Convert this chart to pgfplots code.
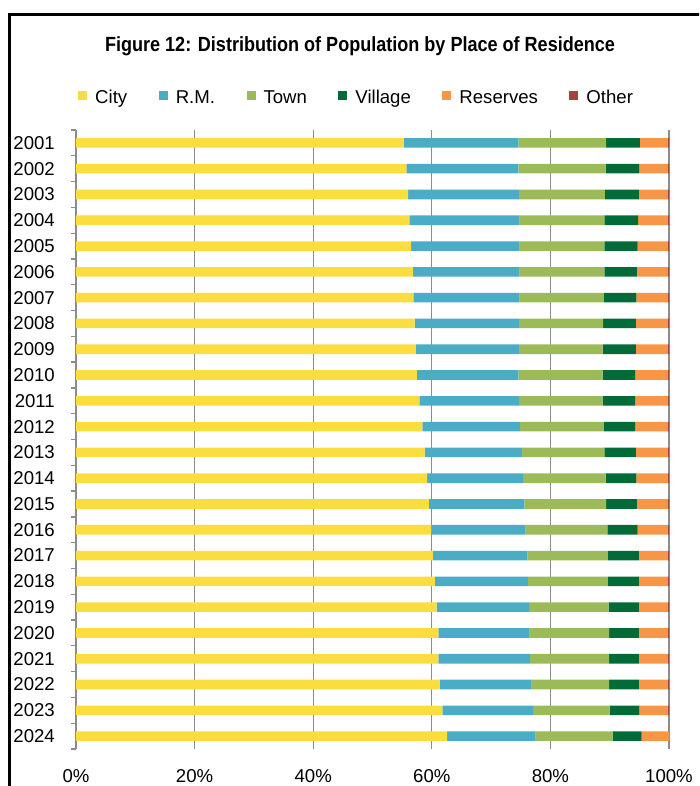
\documentclass[border=0pt]{standalone}
\usepackage{fontspec}
\setmainfont{Liberation Sans}
\newfontfamily\titlefont{Liberation Sans}[FakeStretch=0.88]
\usepackage{pgfplots}
\usepackage{pgfplotstable}
\pgfplotsset{compat=1.18}
\definecolor{cCity}{HTML}{FBDD40}
\definecolor{cRM}{HTML}{4BACC6}
\definecolor{cTown}{HTML}{9BBB59}
\definecolor{cVillage}{HTML}{036B38}
\definecolor{cRes}{HTML}{F79646}
\definecolor{cOther}{HTML}{A5443F}
\definecolor{gridgray}{HTML}{8C8C8C}
\pgfplotstableread{
idx city rm town village reserves other
1  55.3 19.3 14.8 5.7 4.7 0.2
2  55.7 18.9 14.7 5.7 4.8 0.2
3  56.0 18.7 14.5 5.7 4.9 0.2
4  56.2 18.6 14.3 5.7 5.0 0.2
5  56.5 18.3 14.3 5.6 5.1 0.2
6  56.8 18.0 14.3 5.5 5.2 0.2
7  56.9 17.9 14.2 5.5 5.3 0.2
8  57.1 17.6 14.2 5.5 5.4 0.2
9  57.3 17.4 14.1 5.6 5.4 0.2
10 57.5 17.1 14.2 5.5 5.5 0.2
11 57.9 16.8 14.1 5.5 5.5 0.2
12 58.4 16.5 14.1 5.3 5.5 0.2
13 58.8 16.4 13.9 5.3 5.4 0.2
14 59.2 16.2 13.9 5.2 5.3 0.2
15 59.5 16.1 13.8 5.2 5.2 0.2
16 59.9 15.9 13.8 5.1 5.1 0.2
17 60.2 15.9 13.6 5.2 4.9 0.2
18 60.5 15.7 13.5 5.2 4.9 0.2
19 60.8 15.6 13.4 5.1 4.9 0.2
20 61.1 15.4 13.4 5.0 4.9 0.2
21 61.1 15.5 13.3 5.0 4.9 0.2
22 61.3 15.4 13.2 5.0 4.9 0.2
23 61.8 15.3 12.9 5.0 4.8 0.2
24 62.6 14.9 13.0 4.9 4.6 0.0
}\datatable
\begin{document}
\begin{tikzpicture}
\path[use as bounding box] (0pt,0pt) rectangle (699pt,-786pt);
\begin{scope}
\clip (0pt,0pt) rectangle (699pt,-786pt);
\draw[line width=2.5pt, black] (9.5pt,-800pt) -- (9.5pt,-14.5pt) -- (720pt,-14.5pt);
\end{scope}
\node[font=\titlefont\bfseries\fontsize{20.5}{23}\selectfont, anchor=base, inner sep=0pt] at (360pt,-51.7pt) {Figure 12: Distribution of Population by Place of Residence};
\begin{axis}[
  at={(76pt,-749pt)}, anchor=south west,
  scale only axis, width=593pt, height=619pt,
  xbar stacked, bar width=9.6pt,
  xmin=0, xmax=100, ymin=0.5, ymax=24.5,
  y dir=reverse,
  enlargelimits=false,
  axis y line*=left, axis x line*=bottom,
  x axis line style={draw=none},
  y axis line style={draw=gridgray, line width=1.3pt},
  xtick={0,20,40,60,80,100},
  xticklabels={0\%,20\%,40\%,60\%,80\%,100\%},
  ytick={1,...,24},
  yticklabels={2001,2002,2003,2004,2005,2006,2007,2008,2009,2010,2011,2012,2013,2014,2015,2016,2017,2018,2019,2020,2021,2022,2023,2024},
  minor ytick={0.5,1.5,...,24.5},
  tick align=outside,
  major tick length=0pt, minor tick length=5pt,
  tick style={draw=gridgray, line width=1.3pt},
  xmajorgrids,
  major grid style={draw=gridgray, line width=1.3pt},
  tick label style={font=\fontsize{18.6}{20}\selectfont},
  yticklabel style={anchor=east, inner sep=0pt, xshift=-21pt},
  xticklabel style={anchor=north, inner sep=0pt, yshift=-20pt},
  legend columns=6,
  legend cell align=left,
  legend style={at={(0.0034,1.0501)}, anchor=west, draw=none, fill=none, inner sep=0pt,
    nodes={inner sep=0pt, text height=13.4pt, text depth=4pt, font=\fontsize{18.6}{20}\selectfont},
    /tikz/every even column/.append style={column sep=31.5pt},
    /tikz/every odd column/.append style={column sep=8pt}},
  every axis plot post/.append style={draw=none,
    legend image code/.code={\fill[##1] (0pt,-1.5pt) rectangle (9pt,7.5pt);}},
]
\addplot[fill=cCity] table[x=city,y=idx]{\datatable};
\addplot[fill=cRM] table[x=rm,y=idx]{\datatable};
\addplot[fill=cTown] table[x=town,y=idx]{\datatable};
\addplot[fill=cVillage] table[x=village,y=idx]{\datatable};
\addplot[fill=cRes] table[x=reserves,y=idx]{\datatable};
\addplot[fill=cOther] table[x=other,y=idx]{\datatable};
\legend{City,R.M.,Town,Village,Reserves,Other}
\end{axis}
\end{tikzpicture}
\end{document}
